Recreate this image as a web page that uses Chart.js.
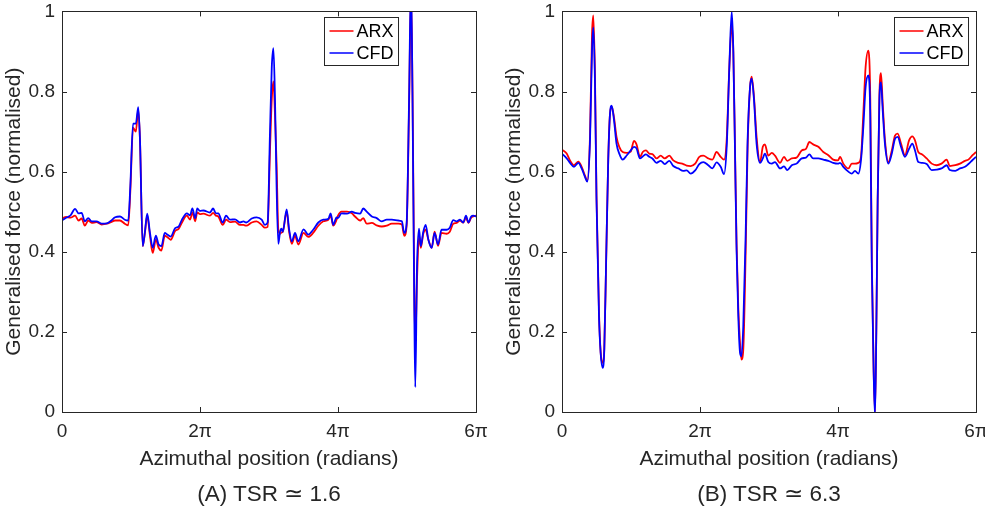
<!DOCTYPE html>
<html>
<head>
<meta charset="utf-8">
<script src="https://cdn.jsdelivr.net/npm/chart.js@4.4.1/dist/chart.umd.min.js"></script>
<style>
  html, body { margin: 0; padding: 0; background: #fff; overflow: hidden; }
  #wrap { position: relative; width: 985px; height: 512px; overflow: hidden; }
  .pane { position: absolute; top: -7px; height: 519px; }
  .caption { position: absolute; top: 481px; width: 414px; text-align: center;
             font: 22.5px "Liberation Sans", Arial, sans-serif; color: #262626; line-height: 26px; }
</style>
</head>
<body>
<div id="wrap">
  <div class="pane" style="left:495px;width:510px"><canvas id="chartB" width="510" height="519"></canvas></div>
  <div class="pane" style="left:0;width:500px"><canvas id="chartA" width="500" height="519"></canvas></div>
  <div class="caption" style="left:62px">(A) TSR ≃ 1.6</div>
  <div class="caption" style="left:562px">(B) TSR ≃ 6.3</div>
</div>
<script>
// azimuthal position, in multiples of pi
const xTicks = [0, 2, 4, 6];
const yTicks = [0, 0.2, 0.4, 0.6, 0.8, 1];
const seriesNames = ['ARX', 'CFD'];

// (A) TSR ~ 1.6
const xA = [0,0.06,0.12,0.19,0.24,0.285,0.33,0.38,0.43,0.5,
  0.575,0.65,0.7,0.77,0.84,0.91,0.96,0.99,1.03,1.07,
  1.105,1.13,1.17,1.2,1.235,1.275,1.315,1.36,1.4,1.44,
  1.49,1.525,1.575,1.64,1.69,1.735,1.81,1.855,1.89,1.93,
  1.96,2.0,2.05,2.145,2.19,2.23,2.265,2.33,2.377,2.435,
  2.507,2.58,2.63,2.67,2.75,2.82,2.894,2.94,2.98,3.014,
  3.04,3.064,3.087,3.11,3.135,3.16,3.18,3.2,3.256,3.29,
  3.33,3.377,3.425,3.5,3.57,3.64,3.715,3.787,3.86,3.894,
  3.93,3.98,4.0,4.05,4.13,4.2,4.246,4.32,4.366,4.416,
  4.49,4.56,4.633,4.706,4.78,4.875,4.925,4.96,4.995,5.03,
  5.058,5.08,5.106,5.12,5.145,5.174,5.2,5.236,5.27,5.31,
  5.358,5.4,5.45,5.5,5.575,5.62,5.67,5.72,5.768,5.815,
  5.855,5.89,5.93,5.96,6.0];
const arxA = [.483,.487,.485,.49,.478,.483,.465,.478,.472,.474,
  .468,.47,.473,.478,.478,.47,.466,.55,.71,.70,
  .755,.68,.414,.445,.49,.44,.397,.43,.41,.403,
  .44,.437,.43,.452,.457,.472,.49,.48,.498,.476,
  .498,.494,.495,.49,.497,.49,.488,.467,.48,.474,
  .475,.467,.467,.465,.473,.476,.467,.46,.462,.65,
  .78,.825,.74,.62,.455,.445,.448,.45,.5,.452,
  .42,.44,.418,.447,.437,.447,.465,.476,.48,.49,
  .465,.48,.49,.5,.5,.496,.488,.478,.484,.47,
  .472,.466,.463,.465,.47,.47,.468,.44,.466,.76,
  1.05,.8,.3,.17,.33,.44,.41,.445,.455,.43,
  .41,.45,.415,.447,.445,.45,.47,.472,.478,.473,
  .485,.472,.485,.488,.49];
const cfdA = [.478,.485,.49,.507,.496,.497,.476,.484,.476,.476,
  .47,.471,.476,.486,.488,.48,.478,.563,.72,.72,
  .761,.68,.414,.447,.495,.447,.41,.44,.418,.414,
  .447,.443,.438,.459,.463,.479,.496,.491,.508,.484,
  .508,.502,.503,.498,.508,.496,.496,.473,.49,.48,
  .481,.473,.476,.473,.483,.486,.48,.467,.473,.696,
  .86,.908,.78,.563,.42,.45,.458,.45,.506,.458,
  .426,.447,.426,.456,.443,.455,.473,.48,.482,.496,
  .467,.486,.484,.496,.495,.5,.497,.495,.508,.5,
  .488,.484,.476,.48,.48,.478,.476,.447,.472,.78,
  1.08,.78,.253,.062,.363,.458,.414,.45,.467,.43,
  .41,.447,.418,.455,.455,.46,.479,.476,.48,.473,
  .49,.473,.488,.49,.488];

// (B) TSR ~ 6.3
const xB = [0,0.068,0.116,0.174,0.237,0.285,0.333,0.367,0.406,0.435,
  0.454,0.478,0.5,0.536,0.56,0.59,0.613,0.638,0.67,0.696,
  0.72,0.754,0.79,0.83,0.88,0.94,0.996,1.043,1.08,1.13,
  1.17,1.217,1.265,1.31,1.37,1.43,1.49,1.555,1.613,1.686,
  1.758,1.807,1.865,1.93,1.99,2.048,2.12,2.18,2.24,2.3,
  2.348,2.387,2.425,2.46,2.483,2.507,2.53,2.555,2.58,2.6,
  2.627,2.662,2.69,2.725,2.749,2.783,2.82,2.87,2.91,2.94,
  2.99,3.04,3.087,3.16,3.217,3.265,3.33,3.4,3.474,3.536,
  3.585,3.64,3.715,3.787,3.86,3.93,4.0,4.03,4.077,4.15,
  4.2,4.246,4.295,4.333,4.367,4.4,4.44,4.468,4.49,4.517,
  4.536,4.555,4.575,4.6,4.623,4.648,4.68,4.73,4.78,4.826,
  4.865,4.913,4.97,5.03,5.077,5.116,5.164,5.22,5.285,5.358,
  5.43,5.5,5.575,5.62,5.7,5.768,5.84,5.89,5.95,6.0];
const arxB = [.655,.645,.628,.616,.625,.612,.59,.577,.69,.944,
  .99,.84,.54,.25,.15,.123,.16,.36,.63,.745,
  .762,.735,.687,.662,.649,.647,.65,.677,.668,.637,
  .649,.653,.645,.644,.633,.64,.633,.64,.628,.622,
  .619,.615,.614,.62,.637,.64,.633,.63,.649,.637,
  .63,.68,.86,.965,.9,.66,.42,.26,.172,.131,
  .155,.4,.66,.81,.837,.785,.687,.624,.662,.668,
  .64,.647,.64,.622,.637,.627,.633,.635,.653,.657,
  .674,.668,.662,.649,.641,.63,.628,.637,.62,.608,
  .62,.62,.622,.637,.745,.861,.902,.78,.38,.1,
  0,.2,.53,.79,.846,.77,.68,.624,.653,.69,
  .695,.67,.641,.678,.688,.678,.649,.643,.633,.62,
  .616,.62,.63,.614,.616,.62,.627,.63,.641,.649];
const cfdB = [.645,.633,.622,.612,.622,.608,.587,.575,.678,.902,
  .96,.82,.53,.239,.148,.11,.156,.363,.628,.745,
  .765,.728,.67,.645,.63,.641,.653,.662,.658,.633,
  .638,.643,.637,.633,.622,.627,.619,.627,.614,.608,
  .602,.603,.595,.603,.619,.624,.616,.608,.623,.612,
  .594,.662,.86,1.0,.9,.653,.405,.239,.148,.139,
  .214,.446,.678,.811,.832,.778,.67,.622,.633,.645,
  .624,.62,.624,.608,.613,.604,.616,.62,.633,.635,
  .643,.633,.633,.63,.627,.622,.62,.622,.612,.6,
  .595,.602,.595,.628,.711,.811,.84,.736,.363,.098,
  -.01,.197,.529,.778,.823,.753,.67,.62,.645,.682,
  .687,.662,.637,.657,.67,.653,.624,.622,.619,.604,
  .605,.608,.616,.604,.602,.608,.612,.619,.629,.637];

const FONT = '"Liberation Sans", Arial, sans-serif';
const INK = '#262626';

// axes box with inward ticks on all four sides (matlab look)
const framePlugin = {
  id: 'frame',
  afterDatasetsDraw(chart) {
    const {ctx, chartArea: a, scales} = chart;
    const len = 5;
    ctx.save();
    ctx.strokeStyle = INK;
    ctx.lineWidth = 1;
    ctx.beginPath();
    scales.x.ticks.forEach(t => {
      const px = Math.round(scales.x.getPixelForValue(t.value)) + 0.5;
      ctx.moveTo(px, a.bottom); ctx.lineTo(px, a.bottom - len);
      ctx.moveTo(px, a.top); ctx.lineTo(px, a.top + len);
    });
    scales.y.ticks.forEach(t => {
      const py = Math.round(scales.y.getPixelForValue(t.value)) + 0.5;
      ctx.moveTo(a.left, py); ctx.lineTo(a.left + len, py);
      ctx.moveTo(a.right, py); ctx.lineTo(a.right - len, py);
    });
    ctx.stroke();
    ctx.strokeRect(Math.round(a.left) + 0.5, Math.round(a.top) + 0.5,
      Math.round(a.right - a.left), Math.round(a.bottom - a.top));
    ctx.restore();
  }
};

const boxLegend = {
  id: 'boxLegend',
  afterDraw(chart, args, opts) {
    const {ctx, chartArea: a} = chart;
    ctx.save();
    ctx.font = '18px ' + FONT;
    const sets = chart.data.datasets;
    const tw = Math.max(...sets.map(d => ctx.measureText(d.label).width));
    const w = 5 + 24 + 3 + tw + 5, h = 48;
    const x0 = Math.round(a.right - opts.right - w) + 0.5;
    const y0 = Math.round(a.top + opts.top) + 0.5;
    ctx.fillStyle = '#fff';
    ctx.fillRect(x0, y0, w, h);
    ctx.strokeStyle = INK;
    ctx.lineWidth = 1;
    ctx.strokeRect(x0, y0, w, h);
    sets.forEach((d, i) => {
      const yy = y0 + 13.5 + i * 22;
      ctx.strokeStyle = d.borderColor;
      ctx.lineWidth = 1.5;
      ctx.beginPath();
      ctx.moveTo(x0 + 5, yy); ctx.lineTo(x0 + 29, yy);
      ctx.stroke();
      ctx.fillStyle = '#000';
      ctx.textBaseline = 'middle';
      ctx.fillText(d.label, x0 + 32, yy + 1);
    });
    ctx.restore();
  }
};

function toPoints(xs, ys) {
  return xs.map((x, i) => ({x: x, y: ys[i]}));
}

function makeChart(id, xs, arx, cfd, opt) {
  return new Chart(document.getElementById(id), {
    type: 'line',
    data: {
      datasets: [
        { label: seriesNames[0], data: toPoints(xs, arx), borderColor: '#ff0000', order: 1 },
        { label: seriesNames[1], data: toPoints(xs, cfd), borderColor: '#0000ff', order: 0 }
      ]
    },
    options: {
      responsive: false,
      animation: false,
      events: [],
      layout: { padding: { top: 11, right: opt.padRight, bottom: 40, left: 0 } },
      elements: {
        point: { radius: 0 },
        line: { borderWidth: 1.8, cubicInterpolationMode: 'monotone', fill: false }
      },
      plugins: {
        legend: { display: false },
        tooltip: { enabled: false },
        boxLegend: { right: opt.legendRight, top: 6 }
      },
      scales: {
        x: {
          type: 'linear', min: 0, max: 6,
          afterBuildTicks: s => { s.ticks = xTicks.map(v => ({value: v})); },
          afterFit: s => { s.height = 60; },
          grid: { display: false, drawTicks: false },
          border: { display: false },
          ticks: {
            padding: 8, color: INK, font: { family: FONT, size: 19 }, maxRotation: 0,
            callback: v => v === 0 ? '0' : v + 'π'
          },
          title: {
            display: true, text: 'Azimuthal position (radians)', color: INK,
            font: { family: FONT, size: 21 }, padding: { top: 0, bottom: 0 }
          }
        },
        y: {
          min: 0, max: 1,
          afterBuildTicks: s => { s.ticks = yTicks.map(v => ({value: v})); },
          afterFit: s => { s.width = opt.yWidth; },
          grid: { display: false, drawTicks: false },
          border: { display: false },
          ticks: {
            padding: 7, color: INK, font: { family: FONT, size: 19 },
            callback: v => String(+v.toFixed(1))
          },
          title: {
            display: true, text: 'Generalised force (normalised)', color: INK,
            font: { family: FONT, size: 21 }, padding: { top: opt.yTitlePad, bottom: 0 }
          }
        }
      }
    },
    plugins: [framePlugin, boxLegend]
  });
}

makeChart('chartA', xA, arxA, cfdA, { yWidth: 62, yTitlePad: 2, padRight: 24, legendRight: 78 });
makeChart('chartB', xB, arxB, cfdB, { yWidth: 67, yTitlePad: 7, padRight: 29, legendRight: 8 });
</script>
</body>
</html>
